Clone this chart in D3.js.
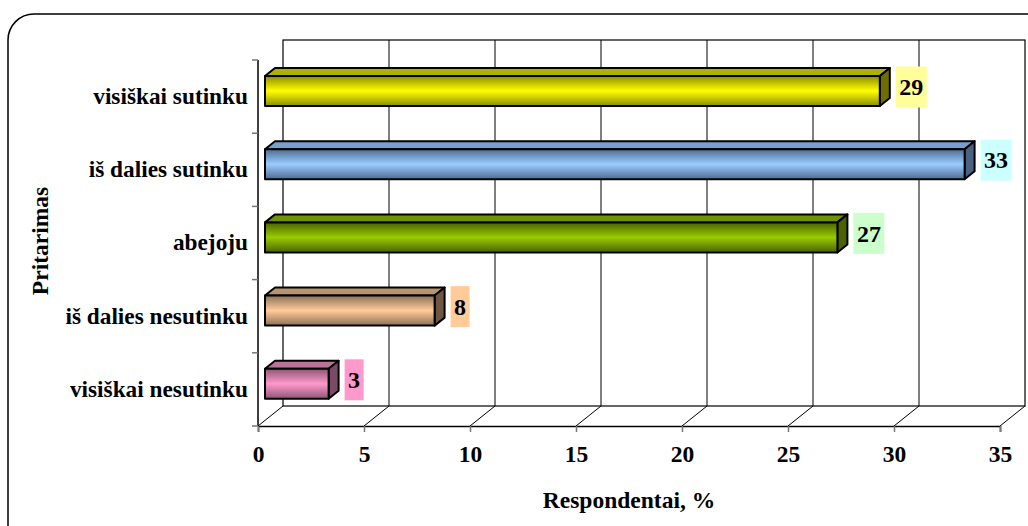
<!DOCTYPE html>
<html>
<head>
<meta charset="utf-8">
<script src="https://cdn.jsdelivr.net/npm/d3@7"></script>
<style>
  html, body { margin: 0; padding: 0; background: #fff; }
  svg { display: block; }
  text { font-family: "Times New Roman", "Liberation Serif", serif; font-weight: bold; fill: #000; }
</style>
</head>
<body>
<svg id="chart" width="1028" height="526"></svg>
<script>
// ---- data ----
const categories = ["visiškai sutinku", "iš dalies sutinku", "abejoju", "iš dalies nesutinku", "visiškai nesutinku"];
const values = [29, 33, 27, 8, 3];
const xTicks = [0, 5, 10, 15, 20, 25, 30, 35];
const xTitle = "Respondentai, %";
const yTitle = "Pritarimas";
// colours: [face middle, face edge, top face, side face, label box]
const barColors = [
  ["#ffff00", "#8c8c00", "#b0b000", "#6e6e00", "#ffff99"],
  ["#99ccff", "#4f6c90", "#7b9fcc", "#48627f", "#ccffff"],
  ["#99cc00", "#4a6300", "#6f9400", "#4a6300", "#ccffcc"],
  ["#ffcc99", "#8c7058", "#b8946f", "#6e5642", "#ffcc99"],
  ["#ff99cc", "#8c5674", "#b87396", "#7a4a66", "#ff99cc"]
];

// ---- layout ----
const svg = d3.select("#chart");
const front = { x0: 258, x1: 1000, y0: 60, y1: 426 };
const depth = { dx: 25, dy: -20 };
const barDepth = [0.28, 0.68];

// outer rounded frame
svg.append("rect").attr("x", 8).attr("y", 14).attr("width", 1060).attr("height", 560)
  .attr("rx", 26).attr("ry", 26).attr("fill", "none").attr("stroke", "#000").attr("stroke-width", 1.5);

const x = d3.scaleLinear().domain([0, 35]).range([front.x0, front.x1]);
const y = d3.scaleBand().domain(categories).range([front.y0, front.y1]).padding(0);
const proj = (v, d, yy) => [x(v) + d * depth.dx, yy + d * depth.dy];

const g = svg.append("g");
const backTop = 40, backBottom = front.y1 + depth.dy;

// back wall
g.append("rect").attr("x", x(0) + depth.dx).attr("y", backTop)
  .attr("width", x(35) - x(0)).attr("height", backBottom - backTop)
  .attr("fill", "none").attr("stroke", "#000").attr("stroke-width", 1.2);
// vertical gridlines on back wall
g.selectAll("line.grid").data(xTicks.slice(1, -1)).join("line")
  .attr("x1", d => x(d) + depth.dx).attr("x2", d => x(d) + depth.dx)
  .attr("y1", backTop).attr("y2", backBottom)
  .attr("stroke", "#000").attr("stroke-width", 1);
// floor diagonals
g.selectAll("line.floor").data(xTicks).join("line")
  .attr("x1", d => x(d)).attr("y1", front.y1)
  .attr("x2", d => x(d) + depth.dx).attr("y2", backBottom)
  .attr("stroke", "#000").attr("stroke-width", 1);

// front x axis
const xAxis = d3.axisBottom(x).tickValues(xTicks).tickSize(6).tickPadding(13).tickFormat(d3.format("d"));
const xg = svg.append("g").attr("transform", `translate(0,${front.y1})`).call(xAxis);
xg.select(".domain").attr("stroke", "#000").attr("stroke-width", 1.5);
xg.selectAll(".tick line").attr("stroke", "#777").attr("stroke-width", 1.5);
xg.selectAll(".tick text").style("font-size", "23.5px").style("font-family", '"Times New Roman","Liberation Serif",serif').style("font-weight", "bold").attr("fill", "#000");

// left category axis
svg.append("line").attr("x1", front.x0).attr("x2", front.x0).attr("y1", front.y0).attr("y2", front.y1)
  .attr("stroke", "#000").attr("stroke-width", 1.5);
const bounds = categories.map(c => y(c)).concat([front.y1]);
svg.selectAll("line.ytick").data(bounds).join("line")
  .attr("x1", front.x0 - 6).attr("x2", front.x0).attr("y1", d => d).attr("y2", d => d)
  .attr("stroke", "#777").attr("stroke-width", 1.5);
svg.selectAll("text.cat").data(categories).join("text")
  .attr("x", front.x0 - 10).attr("y", d => y(d) + y.bandwidth() / 2)
  .attr("dy", "0.32em").attr("text-anchor", "end").style("font-size", "23.3px").text(d => d);

// gradients
const defs = svg.append("defs");
barColors.forEach((c, i) => {
  const lg = defs.append("linearGradient").attr("id", "grad" + i).attr("x1", 0).attr("x2", 0).attr("y1", 0).attr("y2", 1);
  lg.append("stop").attr("offset", "0%").attr("stop-color", c[1]);
  lg.append("stop").attr("offset", "50%").attr("stop-color", c[0]);
  lg.append("stop").attr("offset", "100%").attr("stop-color", c[1]);
});

// bars
const thick = y.bandwidth() * 0.41;
const data = categories.map((c, i) => ({ c, v: values[i], i }));
const bars = svg.append("g").selectAll("g").data(data).join("g");
const pts = arr => arr.map(p => p.join(",")).join(" ");
bars.each(function (d) {
  const sel = d3.select(this);
  const yc = y(d.c) + y.bandwidth() / 2;
  const yt = yc - thick / 2, yb = yc + thick / 2;
  const [d0, d1] = barDepth;
  const fTL = proj(0, d0, yt), fTR = proj(d.v, d0, yt), fBR = proj(d.v, d0, yb), fBL = proj(0, d0, yb);
  const bTL = proj(0, d1, yt), bTR = proj(d.v, d1, yt), bBR = proj(d.v, d1, yb);
  const col = barColors[d.i];
  sel.append("polygon").attr("points", pts([fTL, bTL, bTR, fTR]))
    .attr("fill", col[2]).attr("stroke", "#000").attr("stroke-width", 2).attr("stroke-linejoin", "round");
  sel.append("polygon").attr("points", pts([fTR, bTR, bBR, fBR]))
    .attr("fill", col[3]).attr("stroke", "#000").attr("stroke-width", 2).attr("stroke-linejoin", "round");
  sel.append("polygon").attr("points", pts([fTL, fTR, fBR, fBL]))
    .attr("fill", `url(#grad${d.i})`).attr("stroke", "#000").attr("stroke-width", 2).attr("stroke-linejoin", "round");

  // value label
  const cy = yc + ((d0 + d1) / 2) * depth.dy;
  const lx = fTR[0] + 16;
  const txt = sel.append("text").attr("x", 0).attr("y", 0).style("font-size", "24px").text(d.v);
  const w = txt.node().getComputedTextLength() + 7;
  sel.insert("rect", "text").attr("x", lx).attr("y", cy - 20.5).attr("width", w).attr("height", 41).attr("fill", col[4]);
  txt.attr("x", lx + w / 2).attr("y", cy).attr("dy", "0.34em").attr("text-anchor", "middle");
});

// axis titles
svg.append("text").attr("x", (x(0) + x(35)) / 2).attr("y", 508).attr("text-anchor", "middle")
  .style("font-size", "23.5px").text(xTitle);
svg.append("text").attr("transform", `translate(48,${(front.y0 + front.y1) / 2 - 2}) rotate(-90)`)
  .attr("text-anchor", "middle").style("font-size", "23.5px").text(yTitle);
</script>
</body>
</html>
